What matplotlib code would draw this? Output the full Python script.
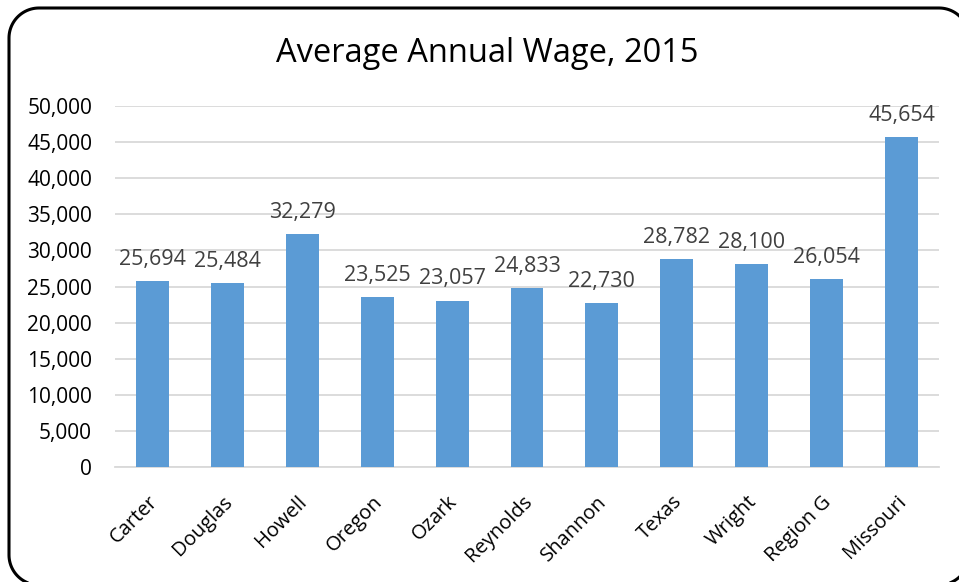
import matplotlib
matplotlib.use("Agg")
import numpy as np
import matplotlib.pyplot as plt
from matplotlib.patches import PathPatch
from matplotlib.path import Path
from matplotlib.ticker import FuncFormatter, MultipleLocator
import matplotlib.transforms as mtransforms

categories = ["Carter", "Douglas", "Howell", "Oregon", "Ozark", "Reynolds",
              "Shannon", "Texas", "Wright", "Region G", "Missouri"]
wages = [25694, 25484, 32279, 23525, 23057, 24833, 22730, 28782, 28100, 26054, 45654]
title = "Average Annual Wage, 2015"

plt.rcParams['font.family'] = ['Open Sans', 'DejaVu Sans']

W, H = 959, 582
fig = plt.figure(figsize=(W / 100, H / 100), dpi=100)

# rounded border in pixel coordinates (y up), partly clipped like the reference
x0, x1, y0, y1, r = 9.0, 969.0, -3.0, 574.0, 30.0
def arc(cx, cy, a0, a1):
    t = np.linspace(np.radians(a0), np.radians(a1), 24)
    return np.column_stack([cx + r * np.cos(t), cy + r * np.sin(t)])
pts = np.vstack([arc(x1 - r, y1 - r, 0, 90), arc(x0 + r, y1 - r, 90, 180),
                 arc(x0 + r, y0 + r, 180, 270), arc(x1 - r, y0 + r, 270, 360)])
pts = np.vstack([pts, pts[:1]])
tr = mtransforms.Affine2D().scale(1 / W, 1 / H) + fig.transFigure
fig.patches.append(PathPatch(Path(pts), transform=tr, fill=False,
                             edgecolor="black", linewidth=2.2))

ax = fig.add_axes([115 / W, 1 - 467 / H, (939 - 115) / W, (467 - 106) / H])
x = range(len(categories))
bars = ax.bar(x, wages, width=0.44, color="#5B9BD5", zorder=3)
ax.set_xlim(-0.5, len(categories) - 0.5)
ax.set_ylim(0, 50000)
ax.yaxis.set_major_locator(MultipleLocator(5000))
ax.yaxis.set_major_formatter(FuncFormatter(lambda v, p: f"{int(v):,}"))
ax.grid(axis="y", color="#d9d9d9", linewidth=1.3, zorder=0)
for s in ["top", "right", "left"]:
    ax.spines[s].set_visible(False)
ax.spines["bottom"].set_color("#d9d9d9")
ax.spines["bottom"].set_linewidth(1.3)
ax.tick_params(axis="y", length=0, pad=16.5, labelsize=15, labelcolor="#000000")
ax.tick_params(axis="x", length=0, pad=0)
ax.set_xticks(list(x))
ax.set_xticklabels(categories, rotation=45, ha="right", va="center",
                   rotation_mode="anchor", fontsize=14.5)
offset = mtransforms.ScaledTranslation(2 / 100, -32 / 100, fig.dpi_scale_trans)
for lbl in ax.get_xticklabels():
    lbl.set_transform(lbl.get_transform() + offset)

for b, v in zip(bars, wages):
    ax.annotate(f"{v:,}", (b.get_x() + b.get_width() / 2, v),
                xytext=(0, 8), textcoords="offset points",
                ha="center", va="bottom", fontsize=15.5, color="#404040")

fig.text(487.5 / W, 1 - 53 / H, title, ha="center", va="center", fontsize=23.5,
         color="#000000")

fig.savefig("out.png", dpi=100)
